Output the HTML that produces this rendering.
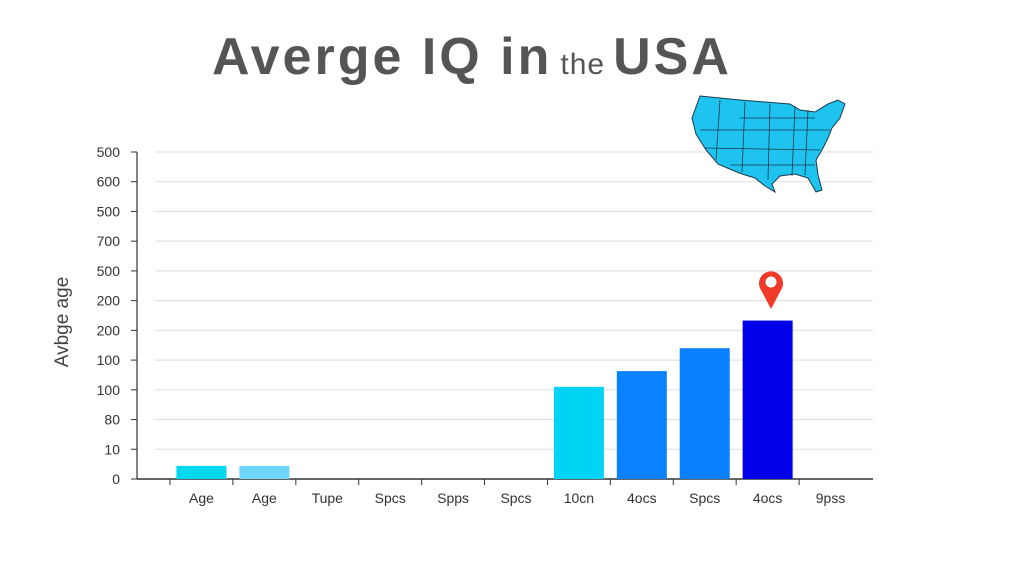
<!DOCTYPE html>
<html><head><meta charset="utf-8"><style>
html,body{margin:0;padding:0;background:#fff;width:1024px;height:572px;overflow:hidden;font-family:"Liberation Sans",sans-serif}
</style></head><body>
<svg width="1024" height="572" viewBox="0 0 1024 572">
<text x="212" y="74" font-size="52" font-weight="bold" fill="#555" letter-spacing="3">Averge IQ in<tspan font-size="30" font-weight="normal" dx="8" letter-spacing="1">the</tspan><tspan dx="8">USA</tspan></text>
<g id="grid"></g>
<g id="bars"></g>
<g id="xlabels"></g>
<text transform="translate(68,322) rotate(-90)" text-anchor="middle" font-size="19" fill="#444">Avbge age</text>
<g>
<path d="M700,96 L740,100 L790,104 L800,110 L815,112 L828,104 L838,100 L845,104 L840,118 L832,128 L828,138 L822,150 L816,160 L818,175 L822,190 L816,192 L808,178 L795,174 L780,176 L772,184 L775,192 L765,186 L755,178 L742,174 L732,170 L718,164 L706,150 L696,134 L692,118 Z" fill="#1ec3f0" stroke="#1a3a4a" stroke-width="1"/>
<path d="M720,100 L716,160 M745,102 L742,172 M770,104 L768,180 M795,106 L792,176 M700,130 L830,130 M705,148 L820,150 M740,118 L815,118 M730,165 L815,165 M808,110 L805,175" stroke="#1a3a4a" stroke-width="0.8" fill="none"/>
</g>
<g>
<path d="M771,309 L761,290 A12,12 0 1 1 781,290 Z" fill="#f03a2a"/>
<circle cx="771" cy="282" r="5.5" fill="#fff"/>
</g>
</svg>
<script>
const categories=["Age","Age","Tupe","Spcs","Spps","Spcs","10cn","4ocs","Spcs","4ocs","9pss"];
const values=[0.44,0.44,0,0,0,0,3.1,3.63,4.4,5.33,0];
const colors=["#00d8ee","#6fd6fb","#00d8ee","#00d8ee","#00d8ee","#00d8ee","#00d4f5","#0a82ff","#0a80ff","#0000ea","#0000ea"];
const tickLabels=["0","10","80","100","100","200","200","500","700","500","600","500"];
const ns="http://www.w3.org/2000/svg";
const y0=479,yTop=152,nTicks=11;
function yScale(v){return y0-v*(y0-yTop)/nTicks;}
const xL=170,xR=862,step=(xR-xL)/categories.length;
function xCenter(i){return xL+step*(i+0.5);}
const grid=document.getElementById('grid'),bars=document.getElementById('bars'),xl=document.getElementById('xlabels');
function mk(tag,attrs,parent){const e=document.createElementNS(ns,tag);for(const k in attrs)e.setAttribute(k,attrs[k]);parent.appendChild(e);return e;}
for(let i=0;i<=nTicks;i++){
 const y=yScale(i);
 if(i>0){const g=mk('line',{x1:155,x2:873,y1:y,y2:y,stroke:"#dedede","stroke-width":1},grid);
 
 }
 mk('line',{x1:131,x2:137,y1:y,y2:y,stroke:"#333"},grid);
 const t=mk('text',{x:120,y:y+5,"text-anchor":"end","font-size":14,fill:"#333"},grid);
 t.textContent=tickLabels[i];
 
 
}
mk('line',{x1:137,x2:137,y1:yTop,y2:y0,stroke:"#333","stroke-width":1.2},grid);
mk('line',{x1:137,x2:873,y1:y0,y2:y0,stroke:"#333","stroke-width":1.5},grid);
categories.forEach((c,i)=>{
 const cx=xCenter(i),w=50;
 if(values[i]>0){
  const r=mk('rect',{x:cx-w/2,y:yScale(values[i]),width:w,height:y0-yScale(values[i]),fill:colors[i]},bars);
  
  
 }
 mk('line',{x1:cx-step/2,x2:cx-step/2,y1:y0,y2:y0+6,stroke:"#333"},xl);
 const t=mk('text',{x:cx,y:503,"text-anchor":"middle","font-size":14,fill:"#333"},xl);
 t.textContent=c;
 
 
});
</script>
</body></html>
